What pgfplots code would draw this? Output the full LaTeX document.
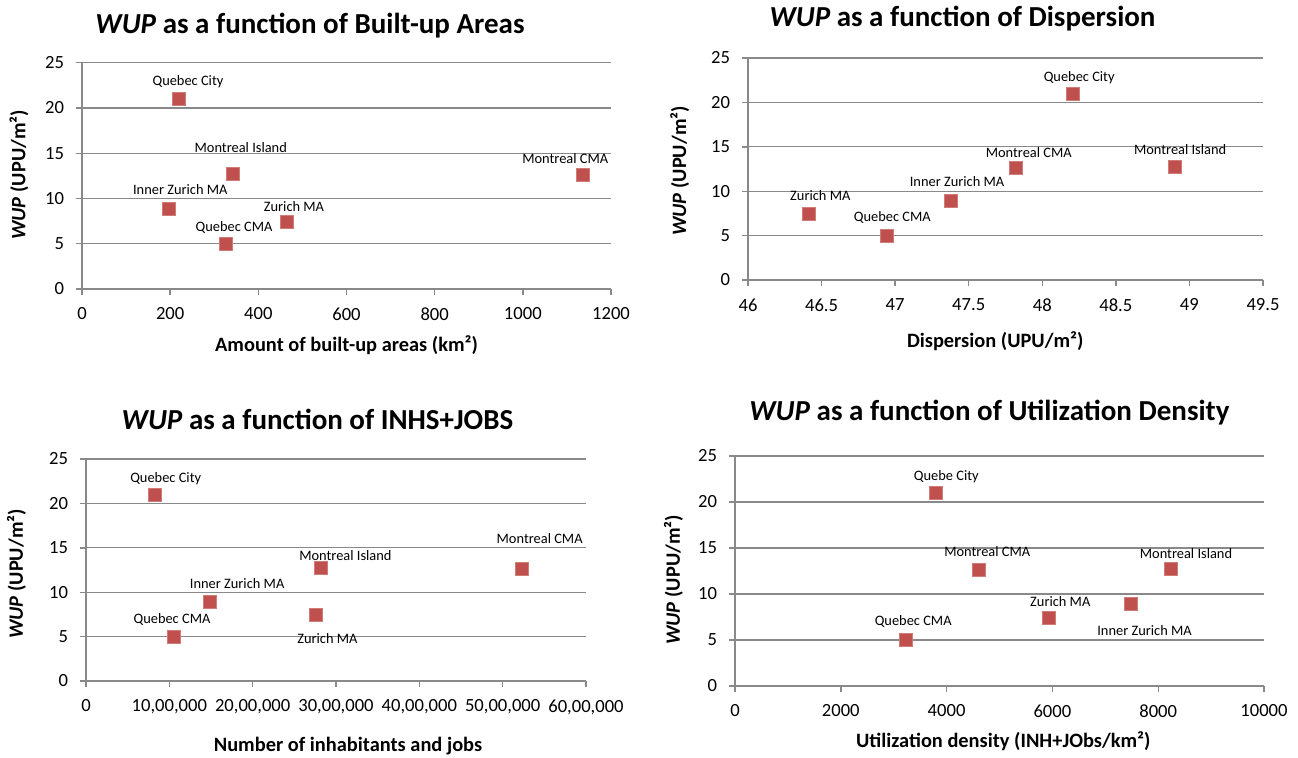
\documentclass[border=0pt]{standalone}
\usepackage{fontspec}
\setmainfont{Carlito}
\usepackage{pgfplots}
\pgfplotsset{compat=1.18}
\usepackage{pgfplotstable}
\definecolor{markred}{HTML}{C0504D}
\definecolor{gridgray}{HTML}{898989}

\pgfplotstableread{
x y dx dy label
220 21.0 4.5 8.7 {Quebec City}
342 12.75 4 13 {Montreal Island}
1137 12.6 -9 8 {Montreal CMA}
198 8.9 5.5 9.5 {Inner Zurich MA}
465 7.45 3.5 7.3 {Zurich MA}
327 5.0 4 8 {Quebec CMA}
}\dataA

\pgfplotstableread{
x y dx dy label
48.21 21.0 3 7.7 {Quebec City}
48.90 12.75 2.7 8.5 {Montreal Island}
47.82 12.6 6.5 7.8 {Montreal CMA}
47.38 8.9 3 9.7 {Inner Zurich MA}
46.41 7.45 6 9.2 {Zurich MA}
46.94 5.0 3 9.2 {Quebec CMA}
}\dataB

\pgfplotstableread{
x y dx dy label
831500 21.0 5.2 7.8 {Quebec City}
2813000 12.75 12.5 6 {Montreal Island}
5228000 12.6 9 15.5 {Montreal CMA}
1484000 8.9 13.75 9 {Inner Zurich MA}
2753000 7.45 6 -12 {Zurich MA}
1056000 5.0 -1 8.8 {Quebec CMA}
}\dataC

\pgfplotstableread{
x y dx dy label
3805 21.0 5 8.3 {Quebe City}
4602 12.6 4.4 9.2 {Montreal CMA}
8242 12.75 7.5 7.8 {Montreal Island}
5930 7.45 5.8 8 {Zurich MA}
7477 8.9 7 -13.2 {Inner Zurich MA}
3227 5.0 3.75 9.2 {Quebec CMA}
}\dataD

\pgfplotsset{
  wupaxis/.style={
    scale only axis, anchor=south west,
    ymin=0, ymax=25, ytick={0,5,10,15,20,25},
    yticklabels={0,5,10,15,20,25},
    scaled x ticks=false, scaled y ticks=false,
    axis x line*=bottom, axis y line*=left,
    axis line style={draw=gridgray, line width=0.8pt, -},
    ymajorgrids, grid style={draw=gridgray, line width=0.6pt},
    tick align=outside, major tick length=3pt,
    tick style={draw=gridgray, line width=0.7pt},
    ticklabel style={font=\fontsize{9.3}{10}\selectfont},
    yticklabel style={xshift=-2.5pt},
    xticklabel style={yshift=-2.75pt},
    label style={font=\fontsize{10.2}{12}\selectfont\bfseries},
    title style={font=\fontsize{14.5}{16}\selectfont\bfseries, anchor=base, yshift=-6pt},
    ylabel={\textit{WUP} (UPU/m²)},
    clip=false,
    /pgf/number format/assume math mode=true,
  },
  wupplot/.style={only marks, mark=square*, mark size=3.25pt, color=markred,
    mark options={fill=markred, draw=markred!75!white, line width=0.3pt},
    nodes near coords, point meta=explicit symbolic,
    visualization depends on={\thisrow{dx}\as\lblx},
    visualization depends on={\thisrow{dy}\as\lbly},
    every node near coord/.append style={anchor=center, xshift=\lblx pt, yshift=\lbly pt,
      font=\fontsize{7.2}{8}\selectfont, text=black, inner sep=0pt}}
}

\begin{document}
\begin{tikzpicture}
\useasboundingbox (0,0) rectangle (649pt,378.5pt);

\begin{axis}[wupaxis, at={(41pt,234pt)}, width=264.5pt, height=113.15pt,
  xmin=0, xmax=1200, xtick={0,200,400,600,800,1000,1200},
  xticklabels={0,200,400,600,800,1000,1200},
  title={\textit{WUP} as a function of Built-up Areas},
  title style={at={(axis description cs:0.431,1.131)}},
  xlabel={Amount of built-up areas (km²)},
  xlabel style={at={(axis description cs:0.50,-0.274)}, anchor=base},
  ylabel style={at={(axis description cs:-0.107,0.504)}, anchor=base},
]
\addplot[wupplot] table[x=x,y=y,meta=label]{\dataA};
\end{axis}

\begin{axis}[wupaxis, at={(374pt,238.5pt)}, width=257.5pt, height=111pt,
  xmin=46, xmax=49.5, xtick={46,46.5,47,47.5,48,48.5,49,49.5},
  xticklabels={46,46.5,47,47.5,48,48.5,49,49.5},
  title={\textit{WUP} as a function of Dispersion},
  title style={at={(axis description cs:0.4165,1.144)}},
  xlabel={Dispersion (UPU/m²)},
  xlabel style={at={(axis description cs:0.480,-0.306)}, anchor=base},
  ylabel style={at={(axis description cs:-0.120,0.491)}, anchor=base},
]
\addplot[wupplot] table[x=x,y=y,meta=label]{\dataB};
\end{axis}

\begin{axis}[wupaxis, at={(43pt,38pt)}, width=250pt, height=111pt,
  xmin=0, xmax=6000000,
  xtick={0,1000000,2000000,3000000,4000000,5000000,6000000},
  xticklabels={0,{10,00,000},{20,00,000},{30,00,000},{40,00,000},{50,00,000},{60,00,000}},
  title={\textit{WUP} as a function of INHS+JOBS},
  title style={at={(axis description cs:0.463,1.134)}},
  xlabel={Number of inhabitants and jobs},
  xlabel style={at={(axis description cs:0.524,-0.318)}, anchor=base},
  ylabel style={at={(axis description cs:-0.126,0.482)}, anchor=base},
]
\addplot[wupplot] table[x=x,y=y,meta=label]{\dataC};
\end{axis}

\begin{axis}[wupaxis, at={(367.5pt,35.5pt)}, width=264.5pt, height=115pt,
  xmin=0, xmax=10000, xtick={0,2000,4000,6000,8000,10000},
  xticklabels={0,2000,4000,6000,8000,10000},
  title={\textit{WUP} as a function of Utilization Density},
  title style={at={(axis description cs:0.481,1.153)}},
  xlabel={Utilization density (INH+JObs/km²)},
  xlabel style={at={(axis description cs:0.507,-0.267)}, anchor=base},
  ylabel style={at={(axis description cs:-0.104,0.461)}, anchor=base},
]
\addplot[wupplot] table[x=x,y=y,meta=label]{\dataD};
\end{axis}
\end{tikzpicture}
\end{document}
